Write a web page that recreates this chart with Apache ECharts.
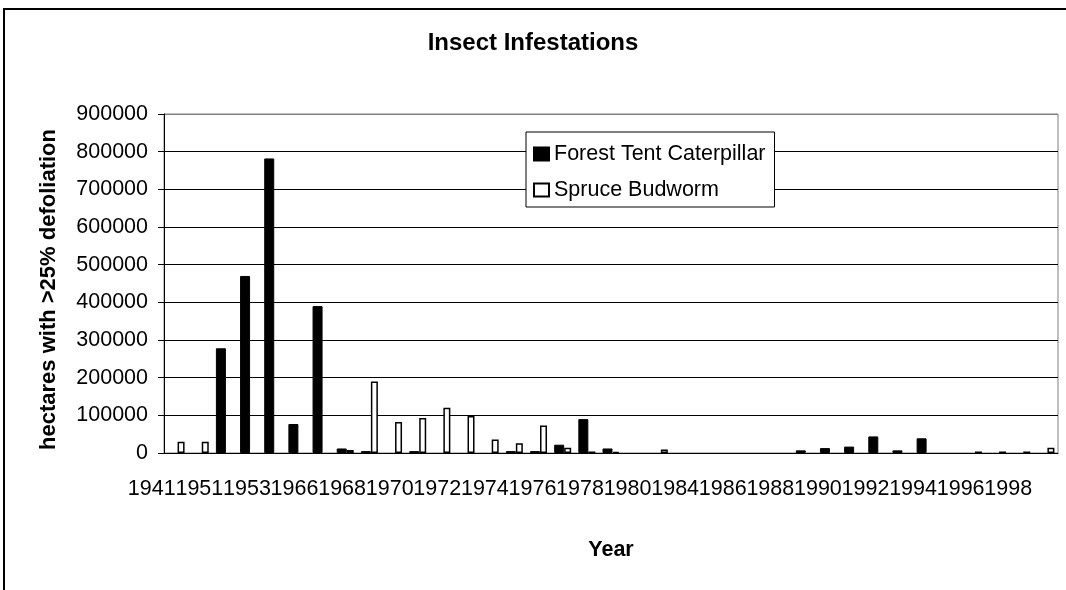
<!DOCTYPE html>
<html>
<head>
<meta charset="UTF-8">
<title>Insect Infestations</title>
<style>
  html, body { margin: 0; padding: 0; background: #fff; }
  #chart { width: 1066px; height: 590px; }
</style>
</head>
<body>
<div id="chart"></div>
<script src="https://cdn.jsdelivr.net/npm/echarts@6/dist/echarts.min.js"></script>
<script>
// one category per year in the source table (only every other one gets a label)
var years = ['1941', '1950', '1951', '1952', '1953', '1954', '1966', '1967', '1968', '1969',
  '1970', '1971', '1972', '1973', '1974', '1975', '1976', '1977', '1978', '1979',
  '1980', '1982', '1984', '1985', '1986', '1987', '1988', '1989', '1990', '1991',
  '1992', '1993', '1994', '1995', '1996', '1997', '1998'];

var forestTent = [0, 0, 278000, 470000, 782000, 77000, 390000, 12000, 5000, 0,
  5000, 0, 0, 0, 5000, 5000, 22000, 90000, 12000, 0,
  0, 0, 0, 0, 0, 0, 7000, 13000, 17000, 44000,
  7000, 39000, 0, 0, 0, 0, 0];

var spruceBud = [30000, 30000, 0, 0, 0, 0, 0, 8000, 190000, 82000,
  93000, 120000, 98000, 36000, 26000, 73000, 14000, 4000, 3000, 0,
  9000, 0, 0, 0, 0, 0, 0, 0, 0, 0,
  0, 0, 0, 4000, 4000, 4000, 14000];

var tickLabels = years.filter(function (y, i) { return i % 2 === 0; });
var yTicks = [0, 100000, 200000, 300000, 400000, 500000, 600000, 700000, 800000, 900000];

var font = 'Liberation Sans, Arial, sans-serif';
var fs = 21.5;

// gridlines black, the top one is the grey plot border
var gridColors = yTicks.map(function (v, i) { return i === yTicks.length - 1 ? '#808080' : '#000'; });

// empty years: no bar at all (a zero bar would still show its border)
function noZero(arr) {
  return arr.map(function (v) { return v === 0 ? '-' : v; });
}

var myChart = echarts.init(document.getElementById('chart'));
myChart.setOption({
  animation: false,
  backgroundColor: '#fff',
  textStyle: { fontFamily: font, color: '#000' },
  graphic: [{
    type: 'rect',
    shape: { x: 4, y: 9, width: 1100, height: 620 },
    style: { fill: 'none', stroke: '#000', lineWidth: 2 },
    silent: true
  }],
  title: {
    text: 'Insect Infestations',
    left: 'center',
    top: 31,
    padding: 0,
    textStyle: { fontFamily: font, fontSize: 24, fontWeight: 'bold', color: '#000' }
  },
  legend: {
    orient: 'vertical',
    left: 526,
    top: 132,
    padding: [11, 9, 6, 7],
    itemGap: 14,
    itemWidth: 15,
    itemHeight: 13,
    backgroundColor: '#fff',
    borderColor: '#000',
    borderWidth: 1,
    icon: 'rect',
    textStyle: { fontFamily: font, fontSize: fs, color: '#000' },
    data: ['Forest Tent Caterpillar', 'Spruce Budworm']
  },
  grid: [
    { left: 164, right: 8, top: 114, bottom: 137, show: true, borderColor: '#808080', borderWidth: 1 },
    // only carries the row of year labels
    { left: 128, right: 34, top: 114, bottom: 137 }
  ],
  xAxis: [{
    type: 'category',
    gridIndex: 0,
    data: years,
    name: 'Year',
    nameLocation: 'middle',
    nameGap: 86,
    nameTextStyle: { fontFamily: font, fontSize: fs, fontWeight: 'bold', color: '#000' },
    axisLine: { lineStyle: { color: '#000', width: 1 } },
    axisTick: { interval: 0, length: 5, lineStyle: { color: '#000' } },
    axisLabel: { show: false }
  }, {
    type: 'category',
    gridIndex: 1,
    data: tickLabels,
    axisLine: { show: false },
    axisTick: { show: false },
    axisLabel: { interval: 0, margin: 25, fontFamily: font, fontSize: fs, color: '#000' }
  }],
  yAxis: [{
    type: 'value',
    gridIndex: 0,
    min: 0,
    max: 900000,
    interval: 100000,
    name: 'hectares with >25% defoliation',
    nameLocation: 'middle',
    nameGap: 104,
    nameTextStyle: { fontFamily: font, fontSize: 22, fontWeight: 'bold', color: '#000', padding: [0, 0, 0, -12] },
    axisLine: { show: true, lineStyle: { color: '#000', width: 1 } },
    axisTick: { show: true, length: 6, lineStyle: { color: '#000' } },
    axisLabel: {
      margin: 16, fontFamily: font, fontSize: fs, color: '#000',
      formatter: function (v) { return String(v); }
    },
    splitLine: { show: true, lineStyle: { color: gridColors, width: 1 } }
  }, {
    type: 'value',
    gridIndex: 1,
    show: false,
    min: 0,
    max: 900000
  }],
  series: [{
    name: 'Forest Tent Caterpillar',
    type: 'bar',
    xAxisIndex: 0,
    yAxisIndex: 0,
    data: noZero(forestTent),
    barWidth: 10,
    barGap: '0%',
    itemStyle: { color: '#000', borderColor: '#000', borderWidth: 1 }
  }, {
    name: 'Spruce Budworm',
    type: 'bar',
    xAxisIndex: 0,
    yAxisIndex: 0,
    data: noZero(spruceBud),
    barWidth: 7,
    barGap: '0%',
    itemStyle: { color: '#fff', borderColor: '#000', borderWidth: 1.5 }
  }]
});
</script>
</body>
</html>
